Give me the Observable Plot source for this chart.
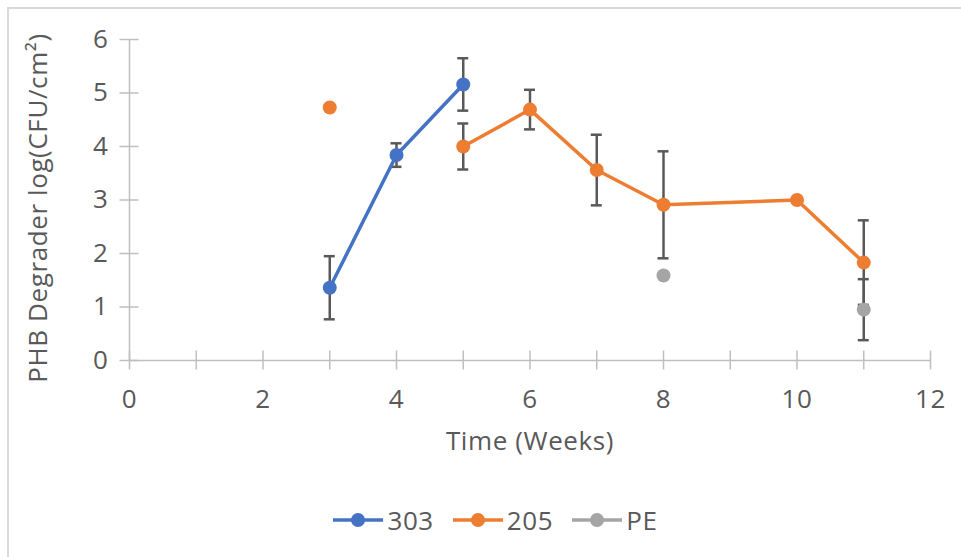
<!DOCTYPE html>
<html>
<head>
<meta charset="utf-8">
<script src="https://cdn.jsdelivr.net/npm/d3@7"></script>
<script src="https://cdn.jsdelivr.net/npm/@observablehq/plot@0.6"></script>
<style>
  body { margin: 0; background: #fff; font-family: "Open Sans", sans-serif; }
  #wrap { position: relative; width: 961px; height: 557px; overflow: hidden; background: #fff; }
  #frame { position: absolute; left: 7px; top: 7px; width: 1000px; height: 600px; border: 2px solid #d9d9d9; box-sizing: border-box; }
  #chart { position: absolute; left: 0; top: 0; }
  #chart text { letter-spacing: 0.6px; }
  #legend { position: absolute; left: 0; top: 502px; width: 990px; display: flex; justify-content: center; align-items: center; color: #595959; font-size: 26px; letter-spacing: 0.6px; }
  .item { display: flex; align-items: center; margin: 0 9px; }
  .item svg { margin-right: 3px; }
</style>
</head>
<body>
<div id="wrap">
  <div id="frame"></div>
  <div id="chart"></div>
  <div id="legend"></div>
</div>
<script>
// Sampling weeks and mean log counts per sample (null = not measured)
const weeks = [3, 4, 5, 6, 7, 8, 10, 11];
const series = ["303", "205", "PE"];
const colors = ["#4472C4", "#ED7D31", "#A5A5A5"];

const values303 = [1.36, 3.84, 5.16, null, null, null, null, null];
const values205 = [4.73, null, 4.00, 4.69, 3.56, 2.91, 3.00, 1.83];
const valuesPE  = [null, null, null, null, null, 1.59, null, 0.95];

// Error bar half-widths
const err303 = [0.59, 0.22, 0.49, null, null, null, null, null];
const err205 = [null, null, 0.43, 0.37, 0.66, 1.00, null, 0.79];
const errPE  = [null, null, null, null, null, null, null, 0.57];

const xTicks = [0, 1, 2, 3, 4, 5, 6, 7, 8, 9, 10, 11, 12];
const xLabels = [0, 2, 4, 6, 8, 10, 12];
const yTicks = [0, 1, 2, 3, 4, 5, 6];

const xTitle = "Time (Weeks)";
const yTitle = "PHB Degrader log(CFU/cm²)";

const valueSets = [values303, values205, valuesPE];
const errSets = [err303, err205, errPE];
const rows = [];
series.forEach((s, k) => {
  weeks.forEach((w, i) => {
    rows.push({series: s, week: w, value: valueSets[k][i], err: errSets[k][i]});
  });
});
const errRows = rows.filter(d => d.value != null && d.err != null);

const axisColor = "#bfbfbf";
const barColor = "#595959";
const textColor = "#595959";
const fs = 26;

const chart = Plot.plot({
  width: 961,
  height: 470,
  marginLeft: 129,
  marginRight: 31,
  marginTop: 39,
  marginBottom: 110,
  x: {domain: [0, 12]},
  y: {domain: [0, 6]},
  color: {domain: series, range: colors},
  style: {fontFamily: "Open Sans", fontSize: fs + "px", color: textColor, background: "transparent"},
  marks: [
    // axis lines and cross ticks
    Plot.ruleY([0], {stroke: axisColor, strokeWidth: 1.5}),
    Plot.ruleX([0], {stroke: axisColor, strokeWidth: 1.5}),
    Plot.ruleX(xTicks, {x: d => d, y1: 0, y2: 0, insetTop: -9.5, insetBottom: -9.5, stroke: axisColor, strokeWidth: 1.5}),
    Plot.ruleY(yTicks, {y: d => d, x1: 0, x2: 0, insetLeft: -9.5, insetRight: -9.5, stroke: axisColor, strokeWidth: 1.5}),
    Plot.axisX(xLabels, {tickSize: 0, tickPadding: 29, label: null, fontSize: fs, fill: textColor, tickFormat: "d"}),
    Plot.axisY(yTicks, {tickSize: 0, tickPadding: 21, label: null, fontSize: fs, fill: textColor, tickFormat: "d"}),
    Plot.text([xTitle], {frameAnchor: "bottom", dy: 89, fontSize: fs, fill: textColor}),
    Plot.text([yTitle], {frameAnchor: "left", dx: -91, dy: 8, rotate: -90, textAnchor: "middle", fontSize: fs, fill: textColor}),
    // error bars with caps
    Plot.ruleX(errRows, {x: "week", y1: d => d.value - d.err, y2: d => d.value + d.err, stroke: barColor, strokeWidth: 2.5}),
    Plot.ruleY(errRows, {y: d => d.value + d.err, x1: "week", x2: "week", insetLeft: -5.5, insetRight: -5.5, stroke: barColor, strokeWidth: 2.5}),
    Plot.ruleY(errRows, {y: d => d.value - d.err, x1: "week", x2: "week", insetLeft: -5.5, insetRight: -5.5, stroke: barColor, strokeWidth: 2.5}),
    // series
    Plot.line(rows, {x: "week", y: "value", z: "series", stroke: "series", strokeWidth: 3.5}),
    Plot.dot(rows.filter(d => d.value != null), {x: "week", y: "value", fill: "series", r: 7, stroke: "none"})
  ]
});
document.getElementById("chart").appendChild(chart);

// legend below the chart
const legend = document.getElementById("legend");
series.forEach((s, k) => {
  const item = document.createElement("div");
  item.className = "item";
  item.innerHTML = `<svg width="52" height="20"><line x1="1" y1="10" x2="51" y2="10" stroke="${colors[k]}" stroke-width="3.5"/><circle cx="26" cy="10" r="7" fill="${colors[k]}"/></svg><span>${s}</span>`;
  legend.appendChild(item);
});
</script>
</body>
</html>
